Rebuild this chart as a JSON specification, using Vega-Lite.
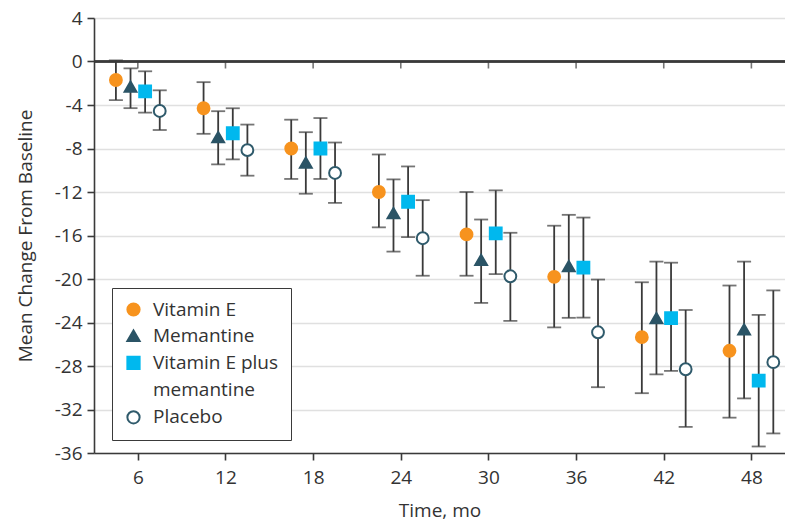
{
  "$schema": "https://vega.github.io/schema/vega-lite/v6.json",
  "width": 691,
  "height": 435,
  "autosize": "none",
  "padding": {"left": 94, "top": 18, "right": 0, "bottom": 72},
  "config": {
    "view": {"stroke": null},
    "font": "Open Sans",
    "axis": {
      "labelFont": "Open Sans",
      "titleFont": "Open Sans",
      "labelColor": "#333333",
      "titleColor": "#333333",
      "labelFontSize": 19,
      "titleFontSize": 19,
      "titleFontWeight": "normal",
      "tickColor": "#3a3a3a",
      "domainColor": "#3a3a3a",
      "tickWidth": 1.6,
      "domainWidth": 1.6,
      "tickSize": 7
    }
  },
  "datasets": {
    "months": [
      {"month": 6}, {"month": 12}, {"month": 18}, {"month": 24},
      {"month": 30}, {"month": 36}, {"month": 42}, {"month": 48}
    ],
    "stats": [
      {"group": "Vitamin E", "t": 4.5, "mean": -1.7, "lo": -3.55, "hi": 0.1},
      {"group": "Vitamin E", "t": 10.5, "mean": -4.3, "lo": -6.65, "hi": -1.9},
      {"group": "Vitamin E", "t": 16.5, "mean": -8.0, "lo": -10.8, "hi": -5.35},
      {"group": "Vitamin E", "t": 22.5, "mean": -12.0, "lo": -15.25, "hi": -8.55},
      {"group": "Vitamin E", "t": 28.5, "mean": -15.9, "lo": -19.7, "hi": -12.0},
      {"group": "Vitamin E", "t": 34.5, "mean": -19.8, "lo": -24.45, "hi": -15.1},
      {"group": "Vitamin E", "t": 40.5, "mean": -25.35, "lo": -30.5, "hi": -20.3},
      {"group": "Vitamin E", "t": 46.5, "mean": -26.6, "lo": -32.75, "hi": -20.6},
      {"group": "Memantine", "t": 5.5, "mean": -2.31, "lo": -4.29, "hi": -0.63},
      {"group": "Memantine", "t": 11.5, "mean": -6.95, "lo": -9.46, "hi": -4.57},
      {"group": "Memantine", "t": 17.5, "mean": -9.29, "lo": -12.16, "hi": -6.5},
      {"group": "Memantine", "t": 23.5, "mean": -13.95, "lo": -17.48, "hi": -10.84},
      {"group": "Memantine", "t": 29.5, "mean": -18.25, "lo": -22.2, "hi": -14.53},
      {"group": "Memantine", "t": 35.5, "mean": -18.82, "lo": -23.57, "hi": -14.1},
      {"group": "Memantine", "t": 41.5, "mean": -23.6, "lo": -28.77, "hi": -18.4},
      {"group": "Memantine", "t": 47.5, "mean": -24.63, "lo": -30.98, "hi": -18.4},
      {"group": "Vitamin E plus memantine", "t": 6.5, "mean": -2.75, "lo": -4.7, "hi": -0.9},
      {"group": "Vitamin E plus memantine", "t": 12.5, "mean": -6.6, "lo": -9.0, "hi": -4.3},
      {"group": "Vitamin E plus memantine", "t": 18.5, "mean": -8.0, "lo": -10.8, "hi": -5.2},
      {"group": "Vitamin E plus memantine", "t": 24.5, "mean": -12.9, "lo": -16.15, "hi": -9.65},
      {"group": "Vitamin E plus memantine", "t": 30.5, "mean": -15.8, "lo": -19.55, "hi": -11.85},
      {"group": "Vitamin E plus memantine", "t": 36.5, "mean": -18.95, "lo": -23.55, "hi": -14.35},
      {"group": "Vitamin E plus memantine", "t": 42.5, "mean": -23.6, "lo": -28.45, "hi": -18.5},
      {"group": "Vitamin E plus memantine", "t": 48.5, "mean": -29.35, "lo": -35.4, "hi": -23.3},
      {"group": "Placebo", "t": 7.5, "mean": -4.55, "lo": -6.3, "hi": -2.65},
      {"group": "Placebo", "t": 13.5, "mean": -8.15, "lo": -10.5, "hi": -5.8},
      {"group": "Placebo", "t": 19.5, "mean": -10.25, "lo": -13.0, "hi": -7.45},
      {"group": "Placebo", "t": 25.5, "mean": -16.25, "lo": -19.7, "hi": -12.75},
      {"group": "Placebo", "t": 31.5, "mean": -19.75, "lo": -23.85, "hi": -15.75},
      {"group": "Placebo", "t": 37.5, "mean": -24.9, "lo": -29.95, "hi": -20.05},
      {"group": "Placebo", "t": 43.5, "mean": -28.3, "lo": -33.6, "hi": -22.85},
      {"group": "Placebo", "t": 49.5, "mean": -27.65, "lo": -34.2, "hi": -21.05}
    ]
  },
  "layer": [
    {
      "data": {"name": "stats"},
      "mark": {"type": "rule", "color": "#3a3a3a", "strokeWidth": 1.8},
      "encoding": {
        "x": {
          "field": "t",
          "type": "quantitative",
          "title": "Time, mo",
          "scale": {"domain": [3, 50.3], "nice": false, "zero": false},
          "axis": {
            "values": [6, 12, 18, 24, 30, 36, 42, 48],
            "grid": false,
            "labelPadding": 8,
            "titlePadding": 14
          }
        },
        "y": {
          "field": "lo",
          "type": "quantitative",
          "title": "Mean Change From Baseline",
          "scale": {"domain": [-36, 4], "nice": false, "zero": false},
          "axis": {
            "values": [-36, -32, -28, -24, -20, -16, -12, -8, -4, 0, 4],
            "labelExpr": "toString(datum.value)",
            "grid": true,
            "gridColor": "#e0e0e0",
            "gridWidth": 1.5,
            "labelPadding": 5,
            "titlePadding": 19
          }
        },
        "y2": {"field": "hi"}
      }
    },
    {
      "data": {"name": "months"},
      "mark": {"type": "rule", "color": "#3a3a3a", "strokeWidth": 1.6},
      "encoding": {
        "y": {"datum": 0, "type": "quantitative", "title": "Mean Change From Baseline"}
      }
    },
    {
      "data": {"name": "months"},
      "mark": {"type": "tick", "orient": "vertical", "size": 7, "thickness": 1.6, "color": "#3a3a3a", "yOffset": 3.5},
      "encoding": {
        "x": {"field": "month", "type": "quantitative", "title": "Time, mo"},
        "y": {"datum": 0, "type": "quantitative", "title": "Mean Change From Baseline"}
      }
    },
    {
      "data": {"name": "stats"},
      "mark": {"type": "tick", "orient": "horizontal", "size": 14, "thickness": 1.8, "color": "#3a3a3a"},
      "encoding": {
        "x": {"field": "t", "type": "quantitative", "title": "Time, mo"},
        "y": {"field": "hi", "type": "quantitative", "title": "Mean Change From Baseline"}
      }
    },
    {
      "data": {"name": "stats"},
      "mark": {"type": "tick", "orient": "horizontal", "size": 14, "thickness": 1.8, "color": "#3a3a3a"},
      "encoding": {
        "x": {"field": "t", "type": "quantitative", "title": "Time, mo"},
        "y": {"field": "lo", "type": "quantitative", "title": "Mean Change From Baseline"}
      }
    },
    {
      "data": {"name": "stats"},
      "mark": {"type": "point", "filled": true, "size": 140, "strokeWidth": 2, "opacity": 1},
      "encoding": {
        "x": {"field": "t", "type": "quantitative", "title": "Time, mo"},
        "y": {"field": "mean", "type": "quantitative", "title": "Mean Change From Baseline"},
        "fill": {
          "field": "group",
          "type": "nominal",
          "scale": {
            "domain": ["Vitamin E", "Memantine", "Vitamin E plus memantine", "memantine", "Placebo"],
            "range": ["#F7931E", "#2B5466", "#00B8EE", "rgba(0,0,0,0)", "#ffffff"]
          },
          "legend": {
            "title": null,
            "orient": "none",
            "legendX": 18,
            "legendY": 270,
            "padding": 12,
            "strokeColor": "#3a3a3a",
            "fillColor": "#ffffff",
            "labelFont": "Open Sans",
            "labelFontSize": 19,
            "labelColor": "#333333",
            "labelOffset": 10,
            "rowPadding": 6.2,
            "symbolSize": 150,
            "symbolStrokeWidth": 2,
            "labelLimit": 300,
            "labelExpr": "datum.label == 'Vitamin E plus memantine' ? 'Vitamin E plus' : datum.label"
          }
        },
        "stroke": {
          "field": "group",
          "type": "nominal",
          "scale": {
            "domain": ["Vitamin E", "Memantine", "Vitamin E plus memantine", "memantine", "Placebo"],
            "range": ["#F7931E", "#2B5466", "#00B8EE", "rgba(0,0,0,0)", "#2F5A6B"]
          },
          "legend": {"title": null}
        },
        "shape": {
          "field": "group",
          "type": "nominal",
          "scale": {
            "domain": ["Vitamin E", "Memantine", "Vitamin E plus memantine", "memantine", "Placebo"],
            "range": ["circle", "triangle-up", "square", "circle", "circle"]
          },
          "legend": {"title": null}
        }
      }
    }
  ]
}
